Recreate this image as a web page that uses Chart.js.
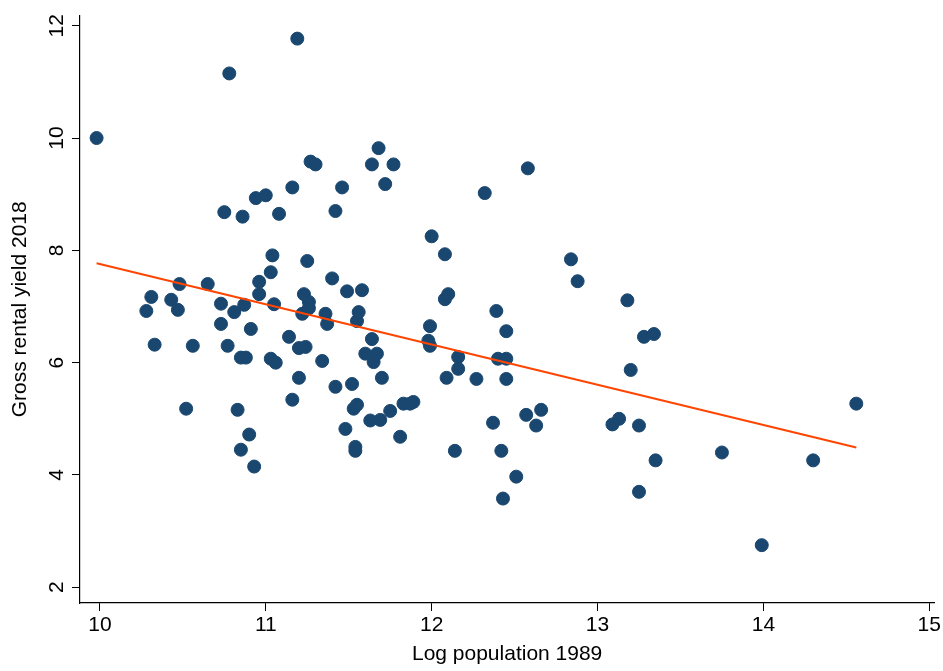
<!DOCTYPE html>
<html>
<head>
<meta charset="utf-8">
<script src="https://cdn.jsdelivr.net/npm/chart.js@4"></script>
<style>
  body { margin: 0; background: #fff; }
  #wrap { width: 943px; height: 671px; }
</style>
</head>
<body>
<div id="wrap"><canvas id="chart"></canvas></div>
<script>
// Log population 1989 vs gross rental yield 2018
const logPop = [9.98, 10.28, 10.31, 10.33, 10.43, 10.48, 10.47, 10.52, 10.56, 10.65,
  10.73, 10.73, 10.75, 10.78, 10.77, 10.81, 10.83, 10.86, 10.87, 10.85,
  10.88, 10.85, 10.9, 10.91, 10.93, 10.94, 10.96, 10.96, 11.0, 11.03,
  11.04, 11.03, 11.05, 11.06, 11.08, 11.14, 11.16, 11.16, 11.19, 11.2,
  11.2, 11.22, 11.23, 11.24, 11.25, 11.26, 11.27, 11.26, 11.3, 11.34,
  11.36, 11.37, 11.4, 11.42, 11.42, 11.46, 11.48, 11.49, 11.52, 11.53,
  11.54, 11.54, 11.55, 11.55, 11.56, 11.58, 11.6, 11.63, 11.64, 11.64,
  11.65, 11.67, 11.68, 11.69, 11.7, 11.72, 11.75, 11.77, 11.81, 11.83,
  11.87, 11.89, 11.98, 11.99, 11.99, 12.0, 12.08, 12.08, 12.1, 12.09,
  12.14, 12.16, 12.16, 12.27, 12.32, 12.37, 12.39, 12.4, 12.42, 12.43,
  12.45, 12.45, 12.45, 12.51, 12.57, 12.58, 12.63, 12.66, 12.84, 12.88,
  13.09, 13.13, 13.18, 13.2, 13.25, 13.25, 13.28, 13.34, 13.35, 13.75,
  13.99, 14.3, 14.56];
const rentYield = [10.0, 6.92, 7.17, 6.32, 7.12, 7.4, 6.94, 5.18, 6.3, 7.4,
  7.05, 6.69, 8.68, 11.15, 6.3, 6.9, 5.16, 8.6, 7.03, 6.09,
  6.09, 4.45, 4.72, 6.6, 4.15, 8.93, 7.22, 7.44, 8.98, 7.61,
  7.91, 6.07, 7.04, 6.0, 8.65, 6.46, 9.12, 5.34, 11.77, 6.26,
  5.73, 6.87, 7.22, 6.28, 7.81, 7.08, 9.58, 6.97, 9.53, 6.03,
  6.87, 6.69, 7.5, 8.7, 5.57, 9.12, 4.82, 7.27, 5.62, 5.18,
  4.43, 4.5, 5.25, 6.74, 6.9, 7.29, 6.16, 4.97, 9.53, 6.42,
  6.01, 6.16, 9.82, 4.98, 5.73, 9.18, 5.14, 9.53, 4.68, 5.27,
  5.27, 5.3, 6.39, 6.3, 6.65, 8.25, 7.93, 7.13, 7.22, 5.73,
  4.43, 6.1, 5.89, 5.71, 9.02, 4.93, 6.92, 6.07, 4.43, 3.58,
  6.56, 6.07, 5.71, 3.97, 5.07, 9.46, 4.88, 5.16, 7.84, 7.45,
  4.9, 5.0, 7.11, 5.87, 4.88, 3.7, 6.46, 6.51, 4.26, 4.4,
  2.75, 4.26, 5.27];
// fitted line end points
const fitX = [9.98, 14.56];
const fitY = [7.77, 4.49];

const xTicks = [10, 11, 12, 13, 14, 15];
const yTicks = [2, 4, 6, 8, 10, 12];

const FONT = 'Liberation Sans, Arial, sans-serif';

// y tick labels in Stata are rotated; draw them ourselves
const rotatedYLabels = {
  id: 'rotatedYLabels',
  afterDraw(chart) {
    const ctx = chart.ctx;
    const y = chart.scales.y;
    ctx.save();
    ctx.fillStyle = '#000';
    ctx.font = '21px ' + FONT;
    ctx.textAlign = 'center';
    ctx.textBaseline = 'bottom';
    yTicks.forEach(v => {
      const py = y.getPixelForValue(v);
      ctx.save();
      ctx.translate(y.right - 12, py);
      ctx.rotate(-Math.PI / 2);
      ctx.fillText(String(v), 0, 0);
      ctx.restore();
    });
    ctx.restore();
  }
};

new Chart(document.getElementById('chart'), {
  type: 'scatter',
  data: {
    datasets: [
      {
        label: 'yield',
        data: logPop.map((x, i) => ({ x: x, y: rentYield[i] })),
        backgroundColor: '#1a476f',
        borderColor: '#1a476f',
        pointRadius: 6.5,
        order: 2
      },
      {
        label: 'fit',
        type: 'line',
        data: fitX.map((x, i) => ({ x: x, y: fitY[i] })),
        borderColor: '#ff4500',
        borderWidth: 2,
        pointRadius: 0,
        fill: false,
        order: 1
      }
    ]
  },
  options: {
    responsive: true,
    maintainAspectRatio: false,
    animation: false,
    layout: { padding: { top: 0, right: 0, left: 8, bottom: 4 } },
    plugins: { legend: { display: false }, tooltip: { enabled: false } },
    scales: {
      x: {
        type: 'linear',
        min: 9.88, max: 15.03,
        afterBuildTicks: s => { s.ticks = xTicks.map(v => ({ value: v })); },
        afterFit: s => { s.height = 64; },
        border: { color: '#000', width: 1.2 },
        grid: { drawOnChartArea: false, drawTicks: true, tickLength: 8, color: '#000' },
        ticks: { color: '#000', font: { size: 21, family: FONT }, padding: 2 },
        title: { display: true, text: 'Log population 1989', color: '#000',
                 font: { size: 21, family: FONT }, padding: 0 }
      },
      y: {
        type: 'linear',
        min: 1.72, max: 12.18,
        afterBuildTicks: s => { s.ticks = yTicks.map(v => ({ value: v })); },
        afterFit: s => { s.width = 72; },
        border: { color: '#000', width: 1.2 },
        grid: { drawOnChartArea: false, drawTicks: true, tickLength: 8, color: '#000' },
        ticks: { color: 'rgba(0,0,0,0)', font: { size: 21, family: FONT } },
        title: { display: true, text: 'Gross rental yield 2018', color: '#000',
                 font: { size: 21, family: FONT }, padding: 0 }
      }
    }
  },
  plugins: [rotatedYLabels]
});
</script>
</body>
</html>
